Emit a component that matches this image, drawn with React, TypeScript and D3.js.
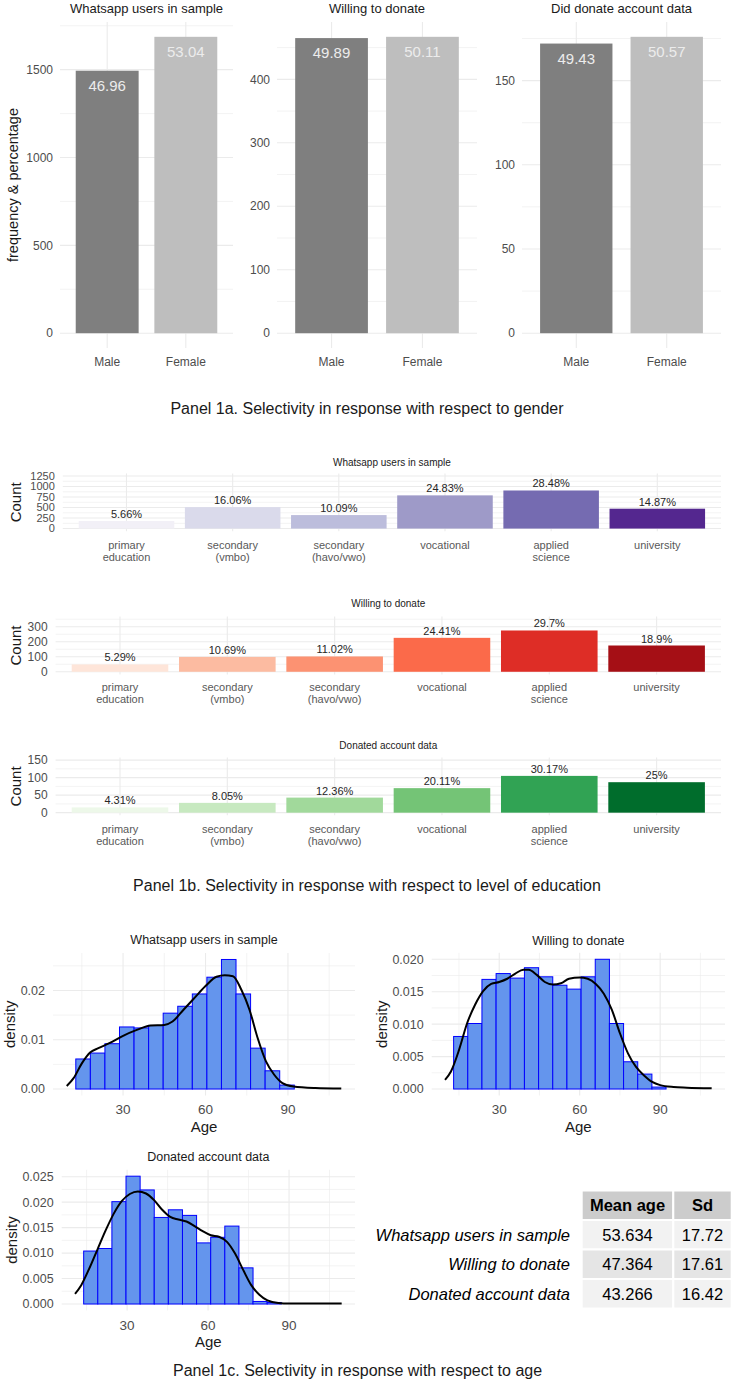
import React from "react";
import * as d3 from "d3";

const W = 734;
const H = 1382;
const FONT = "'Liberation Sans', Arial, Helvetica, sans-serif";
const GRID = "#ebebeb";
const TICK = "#4d4d4d";

// ---- panel 1a: gender ----
const genderCats = ["Male", "Female"];
const genderTitles = ["Whatsapp users in sample", "Willing to donate", "Did donate account data"];
const genderCounts = [
  [1494, 1687],
  [465, 467],
  [172, 176],
];
const genderPcts = [
  ["46.96", "53.04"],
  ["49.89", "50.11"],
  ["49.43", "50.57"],
];
const genderFill = ["#7f7f7f", "#bebebe"];

// ---- panel 1b: education ----
const eduCats = [
  "primary\neducation",
  "secondary\n(vmbo)",
  "secondary\n(havo/vwo)",
  "vocational",
  "applied\nscience",
  "university",
];
const eduTitles = ["Whatsapp users in sample", "Willing to donate", "Donated account data"];
const eduCounts = [
  [180, 511, 321, 790, 906, 473],
  [49, 99, 102, 226, 275, 175],
  [15, 28, 43, 70, 105, 87],
];
const eduPcts = [
  ["5.66%", "16.06%", "10.09%", "24.83%", "28.48%", "14.87%"],
  ["5.29%", "10.69%", "11.02%", "24.41%", "29.7%", "18.9%"],
  ["4.31%", "8.05%", "12.36%", "20.11%", "30.17%", "25%"],
];
const eduLimits = [1250, 350, 150];
const eduTickStep = [250, 100, 50];
const eduPalettes = [
  ["#f2f0f7", "#dadaeb", "#bcbddc", "#9e9ac8", "#756bb1", "#54278f"],
  ["#fee5d9", "#fcbba1", "#fc9272", "#fb6a4a", "#de2d26", "#a50f15"],
  ["#edf8e9", "#c7e9c0", "#a1d99b", "#74c476", "#31a354", "#006d2c"],
];

// ---- panel 1c: age ----
const ageTitles = ["Whatsapp users in sample", "Willing to donate", "Donated account data"];
const binStart = [12.8, 13.0, 13.9];
const binWidth = [5.3, 5.28, 5.23];
const histDensity = [
  [0.0061, 0.0073, 0.0092, 0.0126, 0.0124, 0.0129, 0.0154, 0.0168, 0.0193, 0.0227, 0.0263, 0.0193, 0.0083, 0.0037, 0.0008],
  [0.0081, 0.0101, 0.0169, 0.0178, 0.0171, 0.0187, 0.0173, 0.016, 0.0154, 0.0173, 0.02, 0.0101, 0.0042, 0.0023, 0.0003],
  [0.0104, 0.0109, 0.0201, 0.0251, 0.0224, 0.017, 0.0185, 0.0174, 0.012, 0.0131, 0.0153, 0.0071, 0.0005, 0.0003],
];
const kdeAge = [
  [9.5, 12, 15, 18, 21, 25, 30, 35, 40, 45, 48, 52, 56, 60, 64, 67, 70, 73, 76, 79, 82, 85, 88, 92, 100, 109.4],
  [9.8, 12, 15, 18, 21, 24, 27, 30, 33, 36, 39, 41, 44, 47, 50, 53, 56, 60, 63, 66, 69, 72, 75, 78, 81, 84, 87, 90, 95, 100, 109.2],
  [10.7, 13, 16, 19, 22, 25, 28, 31, 34, 37, 40, 43, 46, 49, 52, 55, 58, 61, 64, 67, 70, 73, 76, 79, 82, 86, 90, 100, 109.5],
];
const kdeDensity = [
  [0.0006, 0.0022, 0.0052, 0.0074, 0.0083, 0.0093, 0.0108, 0.012, 0.0129, 0.013, 0.0137, 0.0161, 0.0185, 0.0209, 0.0228, 0.0231, 0.0229, 0.0202, 0.0161, 0.0103, 0.0056, 0.0029, 0.0012, 0.0005, 0.0002, 0.0001],
  [0.0014, 0.0027, 0.006, 0.0101, 0.013, 0.0151, 0.0162, 0.0165, 0.017, 0.0178, 0.0184, 0.0184, 0.0176, 0.0165, 0.0161, 0.0163, 0.017, 0.0172, 0.017, 0.0162, 0.0147, 0.0122, 0.0086, 0.0055, 0.0034, 0.0021, 0.0011, 0.0006, 0.0003, 0.0002, 0.0001],
  [0.002, 0.0037, 0.007, 0.0107, 0.0144, 0.0177, 0.0202, 0.0216, 0.0221, 0.0217, 0.0204, 0.0185, 0.0171, 0.0166, 0.0162, 0.0153, 0.0143, 0.0135, 0.0132, 0.0122, 0.0099, 0.0067, 0.0037, 0.0018, 0.0007, 0.0002, 0.0001, 0.0001, 0.0001],
];
const ageTicks = [30, 60, 90];
const ageMinor = [15, 45, 75, 105];

const tableRows = ["Whatsapp users in sample", "Willing to donate", "Donated account data"];
const tableHead = ["Mean age", "Sd"];
const meanAge = ["53.634", "47.364", "43.266"];
const sdAge = ["17.72", "17.61", "16.42"];

// layout boxes
const genderBox = [
  { left: 60, right: 233 },
  { left: 277, right: 477 },
  { left: 522, right: 721 },
];
const genderTop = 22;
const genderBottom = 348;

const eduBox = [
  { left: 62.8, top: 473.4, titleY: 462, labY: 545, tickSize: 11 },
  { left: 55.6, top: 616.6, titleY: 603, labY: 687, tickSize: 12 },
  { left: 55.6, top: 757.5, titleY: 745, labY: 829, tickSize: 12 },
];
const eduRight = 721;
const eduH = 57.8;

const histBox = [
  { left: 53, right: 355, top: 953, bottom: 1095.5, titleY: 940, tickY: 1109, ageY: 1127, densX: 10, yStep: 0.01, digits: 2 },
  { left: 431.7, right: 725, top: 952.8, bottom: 1095.5, titleY: 940.7, tickY: 1109, ageY: 1127, densX: 382, yStep: 0.005, digits: 3 },
  { left: 61.7, right: 355, top: 1169.8, bottom: 1310.4, titleY: 1156.7, tickY: 1325, ageY: 1342, densX: 12, yStep: 0.005, digits: 3 },
];

function range(a: number, b: number, step: number) {
  const out: number[] = [];
  for (let v = a; v <= b + 1e-9; v += step) out.push(+v.toFixed(6));
  return out;
}

function GenderPanel({ i }: { i: number }) {
  const box = genderBox[i];
  const counts = genderCounts[i];
  const m = d3.max(counts) as number;
  const y = d3.scaleLinear().domain([-0.05 * m, 1.05 * m]).range([genderBottom, genderTop]);
  const x = d3.scalePoint<string>().domain(genderCats).range([box.left, box.right]).padding(0.6);
  const step = x.step();
  const ticks = y.ticks(4).filter((t) => t >= 0);
  const tStep = ticks[1] - ticks[0];
  const minor = ticks.map((t) => t + tStep / 2).filter((t) => t < y.domain()[1]);
  const mid = (box.left + box.right) / 2;
  return (
    <g>
      {minor.map((t) => (
        <line key={"n" + t} x1={box.left} x2={box.right} y1={y(t)} y2={y(t)} stroke={GRID} strokeWidth={0.6} />
      ))}
      {ticks.map((t) => (
        <line key={"j" + t} x1={box.left} x2={box.right} y1={y(t)} y2={y(t)} stroke={GRID} strokeWidth={1.1} />
      ))}
      {genderCats.map((c) => (
        <line key={"v" + c} x1={x(c)} x2={x(c)} y1={genderTop} y2={genderBottom} stroke={GRID} strokeWidth={1.1} />
      ))}
      {genderCats.map((c, k) => (
        <rect
          key={c}
          x={(x(c) as number) - step * 0.4}
          width={step * 0.8}
          y={y(counts[k])}
          height={y(0) - y(counts[k])}
          fill={genderFill[k]}
        />
      ))}
      {genderCats.map((c, k) => (
        <text key={"l" + c} x={x(c)} y={y(counts[k]) + 20} textAnchor="middle" fontSize={15} fill="#ececec">
          {genderPcts[i][k]}
        </text>
      ))}
      {ticks.map((t) => (
        <text key={"t" + t} x={box.left - 7} y={y(t)} dy="0.35em" textAnchor="end" fontSize={12} fill={TICK}>
          {t}
        </text>
      ))}
      {genderCats.map((c) => (
        <text key={"c" + c} x={x(c)} y={362} dy="0.35em" textAnchor="middle" fontSize={12} fill={TICK}>
          {c}
        </text>
      ))}
      <text x={mid} y={8} dy="0.35em" textAnchor="middle" fontSize={13} fill="#1a1a1a">
        {genderTitles[i]}
      </text>
    </g>
  );
}

function EduPanel({ i }: { i: number }) {
  const box = eduBox[i];
  const lim = eduLimits[i];
  const bottom = box.top + eduH;
  const y = d3.scaleLinear().domain([-0.05 * lim, 1.05 * lim]).range([bottom, box.top]);
  const x = d3.scalePoint<string>().domain(eduCats).range([box.left, eduRight]).padding(0.6);
  const step = x.step();
  const ticks = range(0, lim, eduTickStep[i]);
  const minor = ticks.map((t) => t + eduTickStep[i] / 2).filter((t) => t < 1.05 * lim);
  const mid = (box.left + eduRight) / 2;
  return (
    <g>
      {minor.map((t) => (
        <line key={"n" + t} x1={box.left} x2={eduRight} y1={y(t)} y2={y(t)} stroke={GRID} strokeWidth={0.6} />
      ))}
      {ticks.map((t) => (
        <line key={"j" + t} x1={box.left} x2={eduRight} y1={y(t)} y2={y(t)} stroke={GRID} strokeWidth={1.1} />
      ))}
      {eduCats.map((c) => (
        <line key={"v" + c} x1={x(c)} x2={x(c)} y1={box.top} y2={bottom} stroke={GRID} strokeWidth={1.1} />
      ))}
      {eduCats.map((c, k) => (
        <rect
          key={c}
          x={(x(c) as number) - step * 0.45}
          width={step * 0.9}
          y={y(eduCounts[i][k])}
          height={y(0) - y(eduCounts[i][k])}
          fill={eduPalettes[i][k]}
        />
      ))}
      {eduCats.map((c, k) => (
        <text key={"p" + c} x={x(c)} y={y(eduCounts[i][k]) - 3} textAnchor="middle" fontSize={11} fill="#262626">
          {eduPcts[i][k]}
        </text>
      ))}
      {ticks.map((t) => (
        <text key={"t" + t} x={box.left - 8} y={y(t)} dy="0.35em" textAnchor="end" fontSize={box.tickSize} fill={TICK}>
          {t}
        </text>
      ))}
      {eduCats.map((c) => (
        <text key={"c" + c} x={x(c)} y={box.labY} textAnchor="middle" fontSize={11} fill="#595959">
          {c.split("\n").map((s, j) => (
            <tspan key={j} x={x(c)} y={box.labY + j * 12} dy="0.35em">
              {s}
            </tspan>
          ))}
        </text>
      ))}
      <text x={mid} y={box.titleY} dy="0.35em" textAnchor="middle" fontSize={10} fill="#1a1a1a">
        {eduTitles[i]}
      </text>
      <text
        transform={`translate(16,${(box.top + bottom) / 2}) rotate(-90)`}
        dy="0.35em"
        textAnchor="middle"
        fontSize={15}
        fill="#1a1a1a"
      >
        Count
      </text>
    </g>
  );
}

function AgePanel({ i }: { i: number }) {
  const box = histBox[i];
  const ages = kdeAge[i];
  const lo = d3.min(ages) as number;
  const hi = d3.max(ages) as number;
  const pad = 0.05 * (hi - lo);
  const x = d3.scaleLinear().domain([lo - pad, hi + pad]).range([box.left, box.right]);
  const m = d3.max(histDensity[i]) as number;
  const y = d3.scaleLinear().domain([-0.05 * m, 1.05 * m]).range([box.bottom, box.top]);
  const ticks = range(0, 1.05 * m, box.yStep);
  const minor = ticks.map((t) => t + box.yStep / 2).filter((t) => t < 1.05 * m);
  const line = d3
    .line<number>()
    .x((_, k) => x(ages[k]))
    .y((d) => y(d))
    .curve(d3.curveMonotoneX);
  const mid = (box.left + box.right) / 2;
  return (
    <g>
      {minor.map((t) => (
        <line key={"n" + t} x1={box.left} x2={box.right} y1={y(t)} y2={y(t)} stroke={GRID} strokeWidth={0.6} />
      ))}
      {ticks.map((t) => (
        <line key={"j" + t} x1={box.left} x2={box.right} y1={y(t)} y2={y(t)} stroke={GRID} strokeWidth={1.1} />
      ))}
      {ageMinor.map((a) => (
        <line key={"vn" + a} x1={x(a)} x2={x(a)} y1={box.top} y2={box.bottom} stroke={GRID} strokeWidth={0.6} />
      ))}
      {ageTicks.map((a) => (
        <line key={"vj" + a} x1={x(a)} x2={x(a)} y1={box.top} y2={box.bottom} stroke={GRID} strokeWidth={1.1} />
      ))}
      {histDensity[i].map((d, k) => {
        const a0 = binStart[i] + k * binWidth[i];
        return (
          <rect
            key={k}
            x={x(a0)}
            width={x(a0 + binWidth[i]) - x(a0)}
            y={y(d)}
            height={y(0) - y(d)}
            fill="#6495ed"
            stroke="#0000ff"
            strokeWidth={1}
          />
        );
      })}
      <path d={line(kdeDensity[i]) as string} fill="none" stroke="#000" strokeWidth={2} />
      {ticks.map((t) => (
        <text key={"t" + t} x={box.left - 8} y={y(t)} dy="0.35em" textAnchor="end" fontSize={12.5} fill={TICK}>
          {t.toFixed(box.digits)}
        </text>
      ))}
      {ageTicks.map((a) => (
        <text key={"a" + a} x={x(a)} y={box.tickY} dy="0.35em" textAnchor="middle" fontSize={13.5} fill={TICK}>
          {a}
        </text>
      ))}
      <text x={mid} y={box.titleY} dy="0.35em" textAnchor="middle" fontSize={12.5} fill="#1a1a1a">
        {ageTitles[i]}
      </text>
      <text x={mid} y={box.ageY} dy="0.35em" textAnchor="middle" fontSize={15} fill="#1a1a1a">
        Age
      </text>
      <text
        transform={`translate(${box.densX},${(box.top + box.bottom) / 2}) rotate(-90)`}
        dy="0.35em"
        textAnchor="middle"
        fontSize={15}
        fill="#1a1a1a"
      >
        density
      </text>
    </g>
  );
}

function AgeTable() {
  const top = 1190.5;
  const rowH = 29.5;
  const cols = [581.7, 673.3, 731.7];
  const fills = ["#f2f2f2", "#e5e5e5", "#f2f2f2"];
  return (
    <g fontSize={16.5}>
      {tableHead.map((h, c) => (
        <g key={h}>
          <rect x={cols[c]} y={top} width={cols[c + 1] - cols[c]} height={rowH} fill="#cccccc" stroke="#fff" strokeWidth={2} />
          <text x={(cols[c] + cols[c + 1]) / 2} y={top + rowH / 2} dy="0.35em" textAnchor="middle" fontWeight="bold" fill="#000">
            {h}
          </text>
        </g>
      ))}
      {tableRows.map((r, k) => {
        const ry = top + (k + 1) * rowH;
        const vals = [meanAge[k], sdAge[k]];
        return (
          <g key={r}>
            <text x={570} y={ry + rowH / 2} dy="0.35em" textAnchor="end" fontStyle="italic" fill="#000">
              {r}
            </text>
            {vals.map((v, c) => (
              <g key={c}>
                <rect x={cols[c]} y={ry} width={cols[c + 1] - cols[c]} height={rowH} fill={fills[k]} stroke="#fff" strokeWidth={2} />
                <text x={(cols[c] + cols[c + 1]) / 2} y={ry + rowH / 2} dy="0.35em" textAnchor="middle" fill="#000">
                  {v}
                </text>
              </g>
            ))}
          </g>
        );
      })}
    </g>
  );
}

export default function App() {
  return (
    <svg
      width={W}
      height={H}
      style={{ position: "absolute", left: 0, top: 0, background: "#fff" }}
      fontFamily={FONT}
    >
      <rect width={W} height={H} fill="#fff" />
      {genderTitles.map((_, i) => (
        <GenderPanel key={i} i={i} />
      ))}
      <text
        transform={`translate(13,${(genderTop + genderBottom) / 2}) rotate(-90)`}
        dy="0.35em"
        textAnchor="middle"
        fontSize={14.5}
        fill="#1a1a1a"
      >
        frequency &amp; percentage
      </text>
      <text x={367} y={408} dy="0.35em" textAnchor="middle" fontSize={16} fill="#1a1a1a">
        Panel 1a. Selectivity in response with respect to gender
      </text>

      {eduTitles.map((_, i) => (
        <EduPanel key={i} i={i} />
      ))}
      <text x={367} y={885} dy="0.35em" textAnchor="middle" fontSize={16} fill="#1a1a1a">
        Panel 1b. Selectivity in response with respect to level of education
      </text>

      {ageTitles.map((_, i) => (
        <AgePanel key={i} i={i} />
      ))}
      <AgeTable />
      <text x={173} y={1370} dy="0.35em" textAnchor="start" fontSize={16} fill="#1a1a1a">
        Panel 1c. Selectivity in response with respect to age
      </text>
    </svg>
  );
}
